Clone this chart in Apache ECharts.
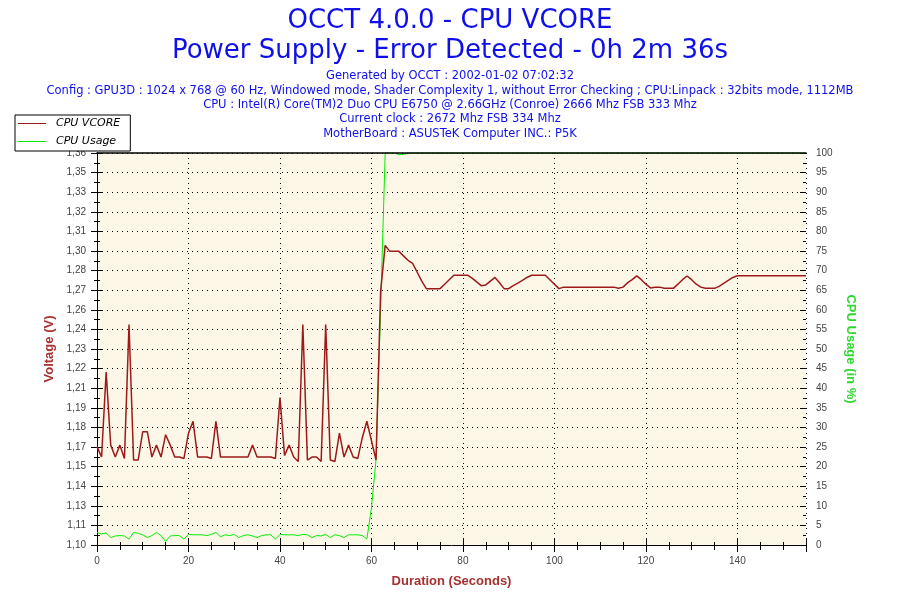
<!DOCTYPE html>
<html><head><meta charset="utf-8">
<script src="https://cdn.jsdelivr.net/npm/echarts@6/dist/echarts.min.js"></script>
<style>html,body{margin:0;padding:0;background:#fff}#c{width:900px;height:600px}</style>
</head><body><div id="c"></div>
<script>
// ---- text ----
const titleLines = ['OCCT 4.0.0 - CPU VCORE', 'Power Supply - Error Detected - 0h 2m 36s'];
const infoLines = [
  'Generated by OCCT : 2002-01-02 07:02:32',
  'Config : GPU3D : 1024 x 768 @ 60 Hz, Windowed mode, Shader Complexity 1, without Error Checking ; CPU:Linpack : 32bits mode, 1112MB',
  'CPU : Intel(R) Core(TM)2 Duo CPU E6750 @ 2.66GHz (Conroe) 2666 Mhz FSB 333 Mhz',
  'Current clock : 2672 Mhz FSB 334 Mhz',
  'MotherBoard : ASUSTeK Computer INC.: P5K'
];
const seriesNames = ['CPU VCORE', 'CPU Usage'];
const axisNames = { x: 'Duration (Seconds)', left: 'Voltage (V)', right: 'CPU Usage (in %)' };

// ---- tick labels ----
const voltTickLabels = ['1,10','1,11','1,13','1,14','1,15','1,17','1,18','1,19','1,21','1,22','1,23',
  '1,24','1,26','1,27','1,28','1,30','1,31','1,32','1,33','1,35','1,36'];

// ---- data: one value per second, index = seconds ----
const vcore = [
  1.166,1.159,1.216,1.167,1.159,1.167,1.158,1.248,1.157,1.157,
  1.176,1.176,1.159,1.167,1.159,1.174,1.167,1.159,1.159,1.158,
  1.175,1.183,1.159,1.159,1.159,1.158,1.183,1.159,1.159,1.159,
  1.159,1.159,1.159,1.159,1.167,1.159,1.159,1.159,1.159,1.158,
  1.199,1.160,1.167,1.159,1.156,1.248,1.157,1.159,1.159,1.156,
  1.248,1.157,1.156,1.175,1.159,1.167,1.159,1.158,1.172,1.183,
  1.170,1.157,1.270,1.301,1.297,1.297,1.297,1.294,1.291,1.289,
  1.283,1.277,1.272,1.272,1.272,1.272,1.275,1.278,1.281,1.281,
  1.281,1.281,1.279,1.2765,1.274,1.2745,1.277,1.2795,1.276,1.272,
  1.272,1.274,1.2757,1.2775,1.2795,1.281,1.281,1.281,1.281,1.278,
  1.275,1.272,1.273,1.273,1.273,1.273,1.273,1.273,1.273,1.273,
  1.273,1.273,1.273,1.273,1.2722,1.273,1.276,1.278,1.2806,1.278,
  1.275,1.2725,1.273,1.273,1.2722,1.2722,1.2722,1.275,1.278,1.2805,
  1.278,1.275,1.273,1.2722,1.2722,1.2722,1.2735,1.2755,1.2775,1.2795,
  1.2806,1.2806,1.2806,1.2806,1.2806,1.2806,1.2806,1.2806,1.2806,1.2806,
  1.2806,1.2806,1.2806,1.2806,1.2806,1.2806
];
const cpuUsage = [
  3.2,2.8,3.1,1.9,2.3,2.4,2.3,1.5,3.2,3.0,
  2.6,1.9,2.4,3.2,2.4,0.9,2.3,2.4,2.4,1.5,
  2.7,2.6,2.6,2.6,2.4,2.7,3.2,2.1,2.6,2.4,
  2.7,1.9,2.4,2.6,2.3,1.9,2.4,2.6,2.6,1.5,
  2.7,2.6,2.6,2.6,2.4,2.7,2.6,1.9,2.4,2.3,
  2.7,1.9,2.6,2.4,1.9,2.6,2.6,2.6,2.4,1.5,
  9.5,21.7,60,100,100,100,99.6,99.6,100,100,
  100,100,100,100,100,100,100,100,100,100,
  100,100,100,100,100,100,100,100,100,100,
  100,100,100,100,100,100,100,100,100,100,
  100,100,100,100,100,100,100,100,100,100,
  100,100,100,100,100,100,100,100,100,100,
  100,100,100,100,100,100,100,100,100,100,
  100,100,100,100,100,100,100,100,100,100,
  100,100,100,100,100,100,100,100,100,100,
  100,100,100,100,100,100
];

// ---- styling ----
const BLUE = '#0F0FEA', RED = '#9E1A1A', GREEN = '#00EE00', NAME_RED = '#A83030', NAME_GREEN = '#2ED82E';
const LABEL_FONT = { fontFamily: 'Liberation Sans', fontSize: 10, color: '#444' };
const VMIN = 1.10, VSTEP = 0.01315, TMAX = 155;

const titles = [];
titleLines.forEach((t, i) => titles.push({
  text: t, left: 'center', top: 6 + i * 30.5, padding: 0,
  textStyle: { fontFamily: 'DejaVu Sans', fontSize: 26, fontWeight: 'normal', color: BLUE, lineHeight: 30 }
}));
infoLines.forEach((t, i) => titles.push({
  text: t, left: 'center', top: 69.5 + i * 14.3, padding: 0,
  textStyle: { fontFamily: 'DejaVu Sans', fontSize: 11.5, fontWeight: 'normal', color: BLUE, lineHeight: 14 }
}));

const dottedSplit = { show: true, lineStyle: { color: '#000', width: 1, type: [1, 4] } };
const blackLine = { show: true, lineStyle: { color: '#000', width: 1 } };

const chart = echarts.init(document.getElementById('c'), null, { renderer: 'canvas' });
chart.setOption({
  animation: false,
  backgroundColor: '#fff',
  title: titles,
  legend: {
    left: 15, top: 115, orient: 'vertical', width: 114,
    backgroundColor: '#fff', borderColor: '#000', borderWidth: 1,
    padding: [2, 10, 3, 3], itemGap: 5, itemWidth: 28, itemHeight: 1,
    icon: 'rect', z: 20,
    textStyle: { fontFamily: 'DejaVu Sans', fontStyle: 'italic', fontSize: 11, color: '#000', lineHeight: 13, padding: [0, 0, 0, 5] },
    data: seriesNames
  },
  grid: { left: 97, right: 94, top: 153, bottom: 55, show: true, backgroundColor: '#FDF7E8', borderWidth: 0 },
  xAxis: [
    { type: 'value', min: 0, max: TMAX, interval: 20, position: 'bottom',
      axisLine: blackLine, axisTick: { show: true, inside: false, length: 7, lineStyle: { color: '#000' } },
      minorTick: { show: true, splitNumber: 4, length: 5, lineStyle: { color: '#000' } },
      axisLabel: Object.assign({ margin: 11, showMaxLabel: false }, LABEL_FONT),
      splitLine: dottedSplit,
      name: axisNames.x, nameLocation: 'middle', nameGap: 30,
      nameTextStyle: { fontFamily: 'Liberation Sans', fontWeight: 'bold', fontSize: 13, color: NAME_RED } },
    { type: 'value', min: 0, max: TMAX, interval: 20, position: 'bottom',
      axisLine: { show: false }, axisTick: { show: true, inside: true, length: 6, lineStyle: { color: '#000' } },
      minorTick: { show: true, splitNumber: 4, length: 3, lineStyle: { color: '#000' } },
      axisLabel: { show: false }, splitLine: { show: false } },
    { type: 'value', min: 0, max: TMAX, position: 'top', zlevel: 1, z: 10,
      axisLine: { show: true, lineStyle: { color: '#000', width: 1.5 } }, axisTick: { show: false }, axisLabel: { show: false }, splitLine: { show: false } }
  ],
  yAxis: [
    { type: 'value', min: VMIN, max: VMIN + 20 * VSTEP, interval: VSTEP, position: 'left',
      axisLine: blackLine, axisTick: { show: true, inside: false, length: 6, lineStyle: { color: '#000' } },
      minorTick: { show: true, splitNumber: 2, length: 3, lineStyle: { color: '#000' } },
      axisLabel: Object.assign({ margin: 11, formatter: v => voltTickLabels[Math.round((v - VMIN) / VSTEP)] || '' }, LABEL_FONT),
      splitLine: dottedSplit,
      name: axisNames.left, nameLocation: 'middle', nameGap: 40,
      nameTextStyle: { fontFamily: 'Liberation Sans', fontWeight: 'bold', fontSize: 13, color: NAME_RED } },
    { type: 'value', min: 0, max: 100, interval: 5, position: 'right',
      axisLine: blackLine, axisTick: { show: true, inside: false, length: 6, lineStyle: { color: '#000' } },
      minorTick: { show: true, splitNumber: 2, length: 3, lineStyle: { color: '#000' } },
      axisLabel: Object.assign({ margin: 10 }, LABEL_FONT),
      splitLine: { show: false },
      name: axisNames.right, nameLocation: 'middle', nameGap: 36, nameRotate: -90,
      nameTextStyle: { fontFamily: 'Liberation Sans', fontWeight: 'bold', fontSize: 13, color: NAME_GREEN } },
    { type: 'value', min: VMIN, max: VMIN + 20 * VSTEP, interval: VSTEP, position: 'left',
      axisLine: { show: false }, axisTick: { show: true, inside: true, length: 6, lineStyle: { color: '#000' } },
      minorTick: { show: true, splitNumber: 2, length: 3, lineStyle: { color: '#000' } },
      axisLabel: { show: false }, splitLine: { show: false } },
    { type: 'value', min: 0, max: 100, interval: 5, position: 'right',
      axisLine: { show: false }, axisTick: { show: true, inside: true, length: 6, lineStyle: { color: '#000' } },
      minorTick: { show: true, splitNumber: 2, length: 3, lineStyle: { color: '#000' } },
      axisLabel: { show: false }, splitLine: { show: false } }
  ],
  series: [
    { name: seriesNames[0], type: 'line', xAxisIndex: 0, yAxisIndex: 0, symbol: 'none', z: 3,
      color: RED, lineStyle: { color: RED, width: 1.5 },
      data: vcore.map((v, i) => [i, v]) },
    { name: seriesNames[1], type: 'line', xAxisIndex: 0, yAxisIndex: 1, symbol: 'none', z: 2,
      color: GREEN, lineStyle: { color: GREEN, width: 1 },
      data: cpuUsage.map((v, i) => [i, v]) }
  ]
});
</script></body></html>
